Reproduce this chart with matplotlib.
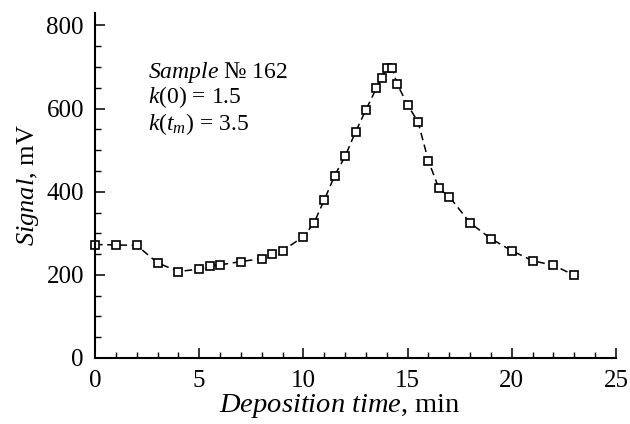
import numpy as np
import matplotlib
matplotlib.use("Agg")
import matplotlib.pyplot as plt
from matplotlib.ticker import MultipleLocator

plt.rcParams['font.family'] = ['Liberation Serif', 'DejaVu Serif']
plt.rcParams['mathtext.fontset'] = 'custom'
plt.rcParams['mathtext.rm'] = 'Liberation Serif'
plt.rcParams['mathtext.it'] = 'Liberation Serif:italic'

# deposition time, min
time_min = [0, 1, 2, 3, 4, 5, 5.5, 6, 7, 8, 8.5, 9, 10, 10.5, 11, 11.5, 12,
            12.5, 13, 13.5, 13.75, 14, 14.25, 14.5, 15, 15.5, 16, 16.5, 17,
            18, 19, 20, 21, 22, 23]
# signal, mV
signal_mv = [273, 272, 271, 229, 208, 214, 222, 224, 232, 239, 249, 258, 292,
             324, 380, 439, 485, 544, 597, 649, 674, 698, 698, 659, 609, 568,
             474, 408, 388, 325, 287, 258, 234, 223, 199]

x_ticks = [0, 5, 10, 15, 20, 25]
y_ticks = [0, 200, 400, 600, 800]

fig = plt.figure(figsize=(6.3, 4.24), dpi=100)
ax = fig.add_axes([0.1508, 0.1557, 0.8270, 0.8136])

ax.plot(time_min, signal_mv, color="black", lw=1.1, ls=(0, (5, 3)),
        marker="s", ms=6, mfc="white", mec="black", mew=1.2, clip_on=False)

ax.set_xlim(0, 25)
ax.set_ylim(0, 830)
ax.set_xticks(x_ticks)
ax.set_yticks(y_ticks)
ax.xaxis.set_minor_locator(MultipleLocator(1))
ax.yaxis.set_minor_locator(MultipleLocator(50))

for side in ["top", "right"]:
  ax.spines[side].set_visible(False)
for side in ["left", "bottom"]:
  ax.spines[side].set_linewidth(1.5)

ax.tick_params(which="major", direction="in", length=7, width=1.1, labelsize=18)
ax.tick_params(axis="y", which="major", pad=8)
ax.tick_params(axis="x", which="major", pad=9)
ax.tick_params(which="minor", direction="in", length=4.3, width=1.0)

ax.set_xlabel(r"$\mathit{Deposition\ time}$, min", fontsize=20.5)
ax.xaxis.set_label_coords(0.47, -0.14)
ax.xaxis.label.set_va("center")
ax.set_ylabel(r"$\mathit{Signal}$, mV", fontsize=19, labelpad=4)

ax.text(2.55, 687, r"$\mathit{Sample}$ № 162", fontsize=17, va="center")
ax.text(2.55, 627, r"$k(0)$ = 1.5", fontsize=17, va="center")
ax.text(2.55, 562, r"$k(t_m)$ = 3.5", fontsize=17, va="center")

fig.savefig("out.png", dpi=100)
